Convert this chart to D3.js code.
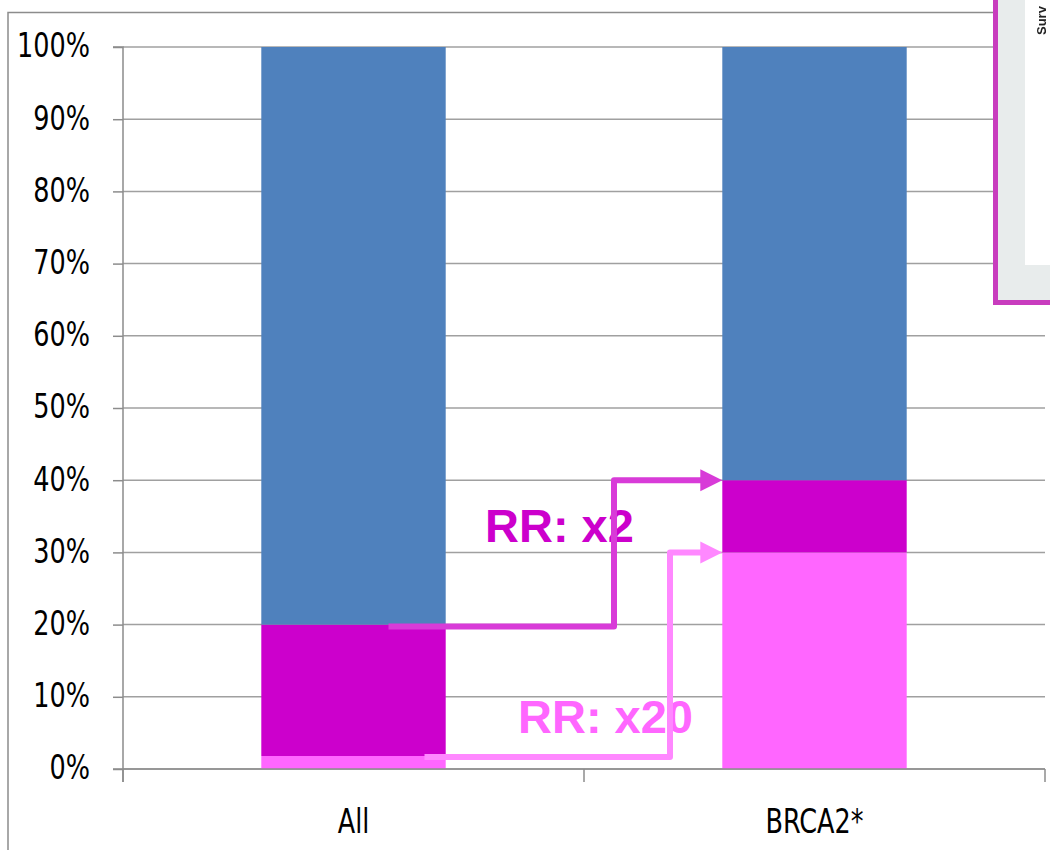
<!DOCTYPE html>
<html>
<head>
<meta charset="utf-8">
<script src="https://cdn.jsdelivr.net/npm/d3@7"></script>
<style>
  html, body { margin: 0; padding: 0; background: #fff; }
  svg { display: block; }
</style>
</head>
<body>
<svg id="chart" width="1050" height="850"></svg>
<script>
// Categories and stacked shares (fractions of 1)
const categories = ["All", "BRCA2*"];
const seriesNames = ["lower", "middle", "upper"];
const lowerValues  = [0.018, 0.30];
const middleValues = [0.182, 0.10];
const upperValues  = [0.80, 0.60];
const seriesColors = ["#ff66ff", "#cc00cc", "#4f81bd"];
const yTicks = [0, 0.1, 0.2, 0.3, 0.4, 0.5, 0.6, 0.7, 0.8, 0.9, 1.0];
const yTickLabels = ["0%", "10%", "20%", "30%", "40%", "50%", "60%", "70%", "80%", "90%", "100%"];

// Relative-risk annotations: from level on "All" to level on "BRCA2*"
const rrLabels = ["RR: x2", "RR: x20"];
const rrFrom = [0.20, 0.018];
const rrTo = [0.40, 0.30];

const svg = d3.select("#chart");
const plot = { left: 123, right: 1045, top: 47, bottom: 769 };

const x = d3.scaleBand().domain(categories).range([plot.left, plot.right]).padding(0);
const barW = x.bandwidth() * 0.4;
const y = d3.scaleLinear().domain([0, 1]).range([plot.bottom, plot.top]);

const labelFont = "'Liberation Sans Narrow', 'Arial Narrow', 'DejaVu Sans Condensed', sans-serif";
const narrow = 0.86; // horizontal squeeze for axis labels

// Outer frame
svg.append("path")
  .attr("d", `M8,850 V12.5 H1050`)
  .attr("fill", "none").attr("stroke", "#8c8c8c").attr("stroke-width", 1.5);

// Horizontal gridlines
svg.append("g")
  .selectAll("line")
  .data(yTicks)
  .join("line")
  .attr("x1", plot.left).attr("x2", plot.right)
  .attr("y1", d => y(d)).attr("y2", d => y(d))
  .attr("stroke", "#a0a0a0").attr("stroke-width", 1.5);

// Stacked bars
const table = categories.map((c, i) => ({
  category: c, lower: lowerValues[i], middle: middleValues[i], upper: upperValues[i]
}));
const stacked = d3.stack().keys(seriesNames)(table);
svg.append("g")
  .selectAll("g")
  .data(stacked)
  .join("g")
  .attr("fill", (d, i) => seriesColors[i])
  .selectAll("rect")
  .data(d => d)
  .join("rect")
  .attr("x", d => x(d.data.category) + (x.bandwidth() - barW) / 2)
  .attr("width", barW)
  .attr("y", d => y(d[1]))
  .attr("height", d => y(d[0]) - y(d[1]));

// Y axis
const yAxis = d3.axisLeft(y)
  .tickValues(yTicks)
  .tickFormat((d, i) => yTickLabels[i])
  .tickSize(10)
  .tickPadding(23);
const gy = svg.append("g").attr("transform", `translate(${plot.left},0)`).call(yAxis);
gy.select(".domain").attr("stroke", "#8c8c8c").attr("stroke-width", 1.5).attr("d", `M-10,${plot.top}H0V${plot.bottom + 13}`);
gy.selectAll(".tick line").attr("stroke", "#8c8c8c").attr("stroke-width", 1.5);
gy.selectAll(".tick text")
  .attr("font-family", labelFont).attr("font-size", 33).attr("fill", "#000")
  .attr("x", null)
  .attr("transform", `translate(-33,0) scale(${narrow},1)`)
  .attr("dy", "0.3em");

// X axis baseline, category boundary ticks and labels
const gx = svg.append("g");
gx.append("line")
  .attr("x1", plot.left - 10).attr("x2", plot.right)
  .attr("y1", plot.bottom).attr("y2", plot.bottom)
  .attr("stroke", "#8c8c8c").attr("stroke-width", 1.5);
const boundaries = categories.map(c => x(c)).concat([x(categories[categories.length - 1]) + x.bandwidth()]);
gx.selectAll("line.b")
  .data(boundaries)
  .join("line").attr("class", "b")
  .attr("x1", d => d).attr("x2", d => d)
  .attr("y1", plot.bottom).attr("y2", plot.bottom + 13)
  .attr("stroke", "#8c8c8c").attr("stroke-width", 1.5);
gx.selectAll("text")
  .data(categories)
  .join("text")
  .attr("transform", d => `translate(${x(d) + x.bandwidth() / 2},${plot.bottom + 64}) scale(${narrow},1)`)
  .attr("text-anchor", "middle")
  .attr("font-family", labelFont).attr("font-size", 33).attr("fill", "#000")
  .text(d => d);

// RR annotation labels
const rrText = [
  { label: rrLabels[0], x: 485, yv: 0.315, color: "#cc00cc" },
  { label: rrLabels[1], x: 518, yv: 0.05, color: "#ff66ff" }
];
svg.append("g")
  .selectAll("text")
  .data(rrText)
  .join("text")
  .attr("x", d => d.x)
  .attr("y", d => y(d.yv))
  .attr("font-family", "'Liberation Sans', Arial, sans-serif")
  .attr("font-weight", "bold")
  .attr("font-size", 47)
  .attr("fill", d => d.color)
  .text(d => d.label);

// RR arrows (elbow connectors ending at the left edge of the BRCA2* bar)
const xAllC = x(categories[0]) + x.bandwidth() / 2;
const xTarget = x(categories[1]) + (x.bandwidth() - barW) / 2;
const arrows = [
  { from: rrFrom[0], to: rrTo[0], startX: xAllC + 35, elbowX: 614, color: "#d83bd8", yOff: 2 },
  { from: rrFrom[1], to: rrTo[1], startX: xAllC + 71, elbowX: 670, color: "#ff88ff", yOff: 1 }
];
const ga = svg.append("g");
arrows.forEach(a => {
  const y0 = y(a.from) + a.yOff;
  const y1 = y(a.to);
  const headLen = 22;
  ga.append("path")
    .attr("d", `M${a.startX},${y0}H${a.elbowX}V${y1}H${xTarget - headLen + 2}`)
    .attr("fill", "none").attr("stroke", a.color).attr("stroke-width", 6)
    .attr("stroke-linejoin", "round");
  ga.append("path")
    .attr("d", `M${xTarget},${y1}L${xTarget - headLen},${y1 - 11}L${xTarget - headLen},${y1 + 11}Z`)
    .attr("fill", a.color);
});

// Inset figure frame in the upper-right corner
const inset = svg.append("g");
inset.append("rect")
  .attr("x", 995.5).attr("y", -10).attr("width", 70).attr("height", 312.5)
  .attr("fill", "#e8ecec").attr("stroke", "#c83cbe").attr("stroke-width", 5);
inset.append("rect")
  .attr("x", 1025).attr("y", -10).attr("width", 40).attr("height", 275)
  .attr("fill", "#ffffff");
svg.append("defs").append("filter").attr("id", "soft")
  .append("feGaussianBlur").attr("stdDeviation", 0.7);
inset.append("text")
  .attr("transform", "translate(1046,35) rotate(-90)")
  .attr("font-family", "'Liberation Sans', Arial, sans-serif")
  .attr("font-weight", "bold")
  .attr("font-size", 13)
  .attr("fill", "#222")
  .attr("filter", "url(#soft)")
  .text("Surv");
</script>
</body>
</html>
